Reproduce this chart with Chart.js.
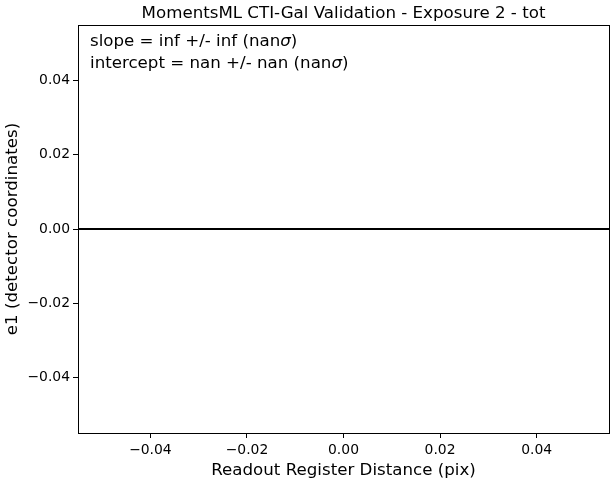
<!DOCTYPE html>
<html>
<head>
<meta charset="utf-8">
<script src="https://cdn.jsdelivr.net/npm/chart.js@4"></script>
<style>
  html, body { margin: 0; padding: 0; background: #fff; }
  #wrap { width: 614px; height: 482px; }
</style>
</head>
<body>
<div id="wrap"><canvas id="chart"></canvas></div>
<script>
// data
const chartTitle = 'MomentsML CTI-Gal Validation - Exposure 2 - tot';
const xLabel = 'Readout Register Distance (pix)';
const yLabel = 'e1 (detector coordinates)';
const lineX = [-0.055, 0.055];   // horizontal zero line, full width
const lineY = [0, 0];
const xTicks = [-0.04, -0.02, 0, 0.02, 0.04];
const yTicks = [-0.04, -0.02, 0, 0.02, 0.04];
const axisMin = -0.055, axisMax = 0.055;
const fitText = [
  ['slope = inf +/- inf (nan', 'σ', ')'],
  ['intercept = nan +/- nan (nan', 'σ', ')']
];

const FONT = "'DejaVu Sans', sans-serif";
const BIG = 16.67, SMALL = 13.9;

function fmt(v) {
  let s = Math.abs(v).toFixed(2);
  return (v < -1e-9 ? '\u2212' : '') + s;
}

// title, frame and fit text drawn by hand (matplotlib look)
const extras = {
  id: 'extras',
  afterDraw(chart) {
    const ctx = chart.ctx, a = chart.chartArea;
    ctx.save();
    ctx.strokeStyle = '#000';
    ctx.lineWidth = 1;
    ctx.strokeRect(Math.round(a.left) + 0.5, Math.round(a.top) + 0.5,
      Math.round(a.right - a.left), Math.round(a.bottom - a.top));

    ctx.fillStyle = '#000';
    ctx.font = BIG + 'px ' + FONT;
    ctx.textAlign = 'center';
    ctx.textBaseline = 'alphabetic';
    ctx.fillText(chartTitle, (a.left + a.right) / 2, a.top - 7);

    ctx.textAlign = 'left';
    ctx.textBaseline = 'middle';
    fitText.forEach((parts, i) => {
      let x = a.left + 12;
      const y = a.top + 17 + i * 21.5;
      parts.forEach((p, k) => {
        ctx.font = (k === 1 ? 'italic ' : '') + BIG + 'px ' + FONT;
        ctx.fillText(p, x, y);
        x += ctx.measureText(p).width;
      });
    });
    ctx.restore();
  }
};

const ctx = document.getElementById('chart');
let myChart = new Chart(ctx, {
  type: 'line',
  data: {
    datasets: [{
      data: lineX.map((x, i) => ({ x: x, y: lineY[i] })),
      borderColor: '#000',
      borderWidth: 2,
      pointRadius: 0,
      tension: 0
    }]
  },
  options: {
    responsive: true,
    maintainAspectRatio: false,
    animation: false,
    devicePixelRatio: 1,
    layout: { padding: { left: 0, right: 5, top: 25, bottom: 0 } },
    plugins: {
      legend: { display: false },
      tooltip: { enabled: false }
    },
    scales: {
      x: {
        type: 'linear',
        min: axisMin,
        max: axisMax,
        afterFit(s) { s.height = 49; },
        afterBuildTicks(s) { s.ticks = xTicks.map(v => ({ value: v })); },
        grid: { display: true, drawOnChartArea: false, tickLength: 5, tickColor: '#000', tickWidth: 1 },
        border: { display: false },
        ticks: {
          color: '#000', padding: 4, maxRotation: 0,
          font: { family: FONT, size: SMALL },
          callback: v => fmt(v)
        },
        title: {
          display: true, text: xLabel, color: '#000',
          font: { family: FONT, size: BIG },
          padding: { top: 0, bottom: 1 }
        }
      },
      y: {
        type: 'linear',
        min: axisMin,
        max: axisMax,
        afterFit(s) { s.width = 78; },
        afterBuildTicks(s) { s.ticks = yTicks.map(v => ({ value: v })); },
        grid: { display: true, drawOnChartArea: false, tickLength: 5, tickColor: '#000', tickWidth: 1 },
        border: { display: false },
        ticks: {
          color: '#000', padding: 3,
          font: { family: FONT, size: SMALL },
          callback: v => fmt(v)
        },
        title: {
          display: true, text: yLabel, color: '#000',
          font: { family: FONT, size: BIG },
          padding: { top: 3, bottom: 0 }
        }
      }
    }
  },
  plugins: [extras]
});
</script>
</body>
</html>
